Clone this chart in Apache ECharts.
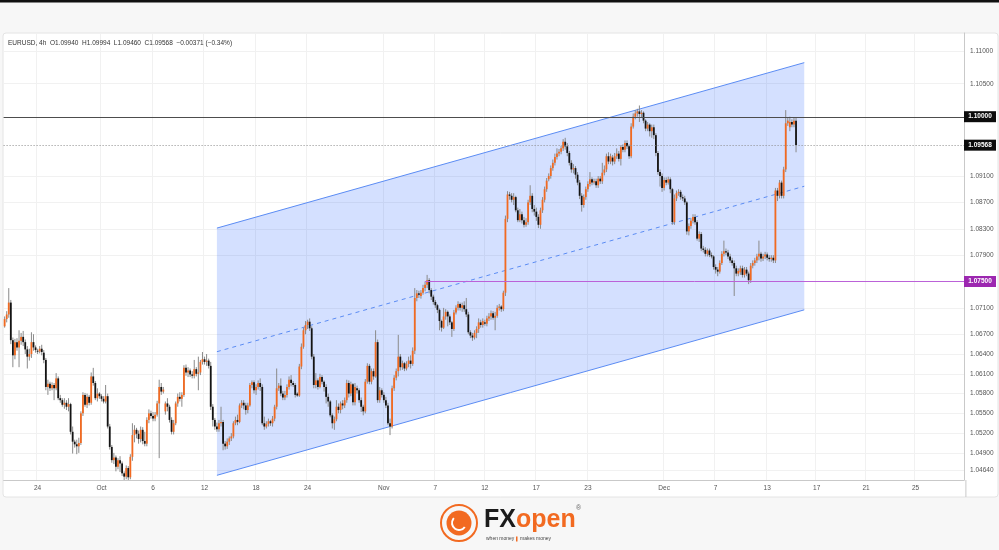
<!DOCTYPE html>
<html><head><meta charset="utf-8">
<script src="https://cdn.jsdelivr.net/npm/echarts@6/dist/echarts.min.js"></script>
<style>html,body{margin:0;padding:0;background:#f7f7f7}#c{width:999px;height:550px}</style>
</head><body><div id="c"></div>
<script>
// ---- DATA: EURUSD 4h candles, rows are [open, high, low, close] ----
const sepBars = [
[1.0682,1.0697,1.0680,1.0693],[1.0693,1.0705,1.0688,1.0700],[1.0700,1.0740,1.0695,1.0718],[1.0718,1.0722,1.0655,1.0661],
[1.0661,1.0665,1.0620,1.0638],[1.0638,1.0663,1.0632,1.0658],[1.0658,1.0664,1.0645,1.0650],[1.0650,1.0676,1.0620,1.0660],
[1.0660,1.0672,1.0654,1.0666],[1.0666,1.0675,1.0652,1.0658],[1.0658,1.0662,1.0640,1.0647],[1.0647,1.0652,1.0618,1.0636],
[1.0636,1.0648,1.0630,1.0640],[1.0640,1.0673,1.0634,1.0658],[1.0658,1.0670,1.0645,1.0650],[1.0650,1.0653,1.0642,1.0646],
[1.0645,1.0648,1.0640,1.0644],[1.0644,1.0652,1.0641,1.0648],[1.0648,1.0654,1.0638,1.0643],[1.0642,1.0646,1.0626,1.0631],
[1.0631,1.0634,1.0585,1.0590],[1.0590,1.0601,1.0578,1.0595],[1.0595,1.0598,1.0584,1.0588],[1.0588,1.0597,1.0585,1.0593],
[1.0593,1.0596,1.0570,1.0588],[1.0588,1.0611,1.0585,1.0603],[1.0603,1.0606,1.0570,1.0573],[1.0573,1.0578,1.0566,1.0570],
[1.0570,1.0573,1.0560,1.0563],[1.0563,1.0573,1.0557,1.0566],[1.0566,1.0570,1.0555,1.0560],[1.0560,1.0573,1.0553,1.0564],
[1.0564,1.0566,1.0518,1.0522],[1.0522,1.0530,1.0489,1.0507],[1.0507,1.0510,1.0498,1.0503],[1.0503,1.0510,1.0488,1.0500],
[1.0500,1.0513,1.0490,1.0505],[1.0505,1.0553,1.0502,1.0550],[1.0550,1.0582,1.0546,1.0578],[1.0578,1.0581,1.0560,1.0563],
[1.0563,1.0580,1.0558,1.0575],[1.0575,1.0578,1.0562,1.0566],[1.0566,1.0612,1.0563,1.0606],[1.0606,1.0619,1.0592,1.0596],
[1.0596,1.0599,1.0570,1.0573],[1.0573,1.0588,1.0568,1.0580],[1.0580,1.0582,1.0572,1.0576]
];
const octBars = [
[1.0576,1.0579,1.0568,1.0572],[1.0572,1.0576,1.0565,1.0568],[1.0568,1.0593,1.0565,1.0576],[1.0576,1.0580,1.0527,1.0530],
[1.0530,1.0534,1.0495,1.0499],[1.0499,1.0502,1.0475,1.0479],[1.0479,1.0490,1.0473,1.0483],[1.0483,1.0486,1.0462,1.0469],
[1.0469,1.0482,1.0465,1.0479],[1.0479,1.0485,1.0461,1.0474],[1.0474,1.0477,1.0455,1.0459],[1.0459,1.0462,1.0448,1.0454],
[1.0454,1.0471,1.0450,1.0467],[1.0467,1.0470,1.0448,1.0453],[1.0453,1.0488,1.0450,1.0484],[1.0484,1.0535,1.0478,1.0517],
[1.0517,1.0532,1.0506,1.0525],[1.0525,1.0528,1.0512,1.0519],[1.0519,1.0524,1.0504,1.0511],[1.0511,1.0530,1.0506,1.0525],
[1.0525,1.0529,1.0503,1.0508],[1.0508,1.0522,1.0500,1.0504],[1.0504,1.0544,1.0500,1.0540],[1.0540,1.0556,1.0535,1.0550],
[1.0550,1.0554,1.0542,1.0546],[1.0546,1.0552,1.0538,1.0542],[1.0542,1.0552,1.0538,1.0548],[1.0548,1.0569,1.0545,1.0565],
[1.0565,1.0601,1.0482,1.0590],[1.0590,1.0596,1.0578,1.0583],[1.0583,1.0590,1.0580,1.0586],[1.0553,1.0568,1.0548,1.0565],
[1.0565,1.0573,1.0553,1.0560],[1.0560,1.0563,1.0536,1.0540],[1.0540,1.0544,1.0518,1.0522],[1.0522,1.0540,1.0518,1.0535],
[1.0535,1.0568,1.0532,1.0565],[1.0565,1.0580,1.0560,1.0575],[1.0575,1.0582,1.0568,1.0572],[1.0572,1.0582,1.0560,1.0578],
[1.0578,1.0623,1.0575,1.0619],[1.0619,1.0624,1.0607,1.0612],[1.0612,1.0620,1.0605,1.0615],[1.0615,1.0618,1.0605,1.0609],
[1.0609,1.0614,1.0603,1.0607],[1.0607,1.0631,1.0603,1.0617],[1.0617,1.0620,1.0606,1.0610],[1.0610,1.0636,1.0585,1.0612],
[1.0612,1.0631,1.0608,1.0628],[1.0628,1.0643,1.0624,1.0632],[1.0632,1.0636,1.0624,1.0628],[1.0628,1.0640,1.0622,1.0630],
[1.0630,1.0633,1.0618,1.0622],[1.0622,1.0628,1.0555,1.0560],[1.0560,1.0564,1.0530,1.0540],[1.0540,1.0543,1.0525,1.0530],
[1.0530,1.0536,1.0522,1.0526],[1.0526,1.0540,1.0522,1.0535],[1.0535,1.0560,1.0530,1.0537],[1.0537,1.0540,1.0494,1.0504],
[1.0504,1.0508,1.0495,1.0500],[1.0500,1.0512,1.0496,1.0507],[1.0507,1.0515,1.0502,1.0512],[1.0512,1.0520,1.0508,1.0515],
[1.0515,1.0538,1.0512,1.0535],[1.0535,1.0545,1.0532,1.0540],[1.0540,1.0548,1.0532,1.0537],[1.0537,1.0565,1.0535,1.0562],
[1.0562,1.0570,1.0558,1.0566],[1.0566,1.0570,1.0556,1.0562],[1.0562,1.0566,1.0548,1.0555],[1.0555,1.0566,1.0550,1.0562],
[1.0562,1.0596,1.0560,1.0593],[1.0593,1.0600,1.0588,1.0597],[1.0597,1.0600,1.0580,1.0585],[1.0585,1.0594,1.0578,1.0590],
[1.0590,1.0600,1.0586,1.0596],[1.0596,1.0603,1.0584,1.0590],[1.0590,1.0594,1.0532,1.0535],[1.0535,1.0545,1.0525,1.0530],
[1.0530,1.0538,1.0527,1.0534],[1.0534,1.0542,1.0530,1.0538],[1.0538,1.0540,1.0531,1.0535],[1.0535,1.0546,1.0530,1.0542],
[1.0542,1.0563,1.0538,1.0560],[1.0560,1.0618,1.0556,1.0588],[1.0588,1.0596,1.0584,1.0592],[1.0592,1.0603,1.0576,1.0580],
[1.0580,1.0584,1.0570,1.0574],[1.0574,1.0584,1.0570,1.0578],[1.0578,1.0594,1.0574,1.0590],[1.0590,1.0606,1.0586,1.0601],
[1.0601,1.0608,1.0591,1.0596],[1.0596,1.0599,1.0590,1.0593],[1.0593,1.0596,1.0574,1.0578],[1.0580,1.0582,1.0575,1.0577],
[1.0577,1.0625,1.0575,1.0621],[1.0621,1.0656,1.0617,1.0651],[1.0651,1.0680,1.0648,1.0676],[1.0676,1.0690,1.0670,1.0684],
[1.0684,1.0692,1.0678,1.0689],[1.0689,1.0694,1.0675,1.0679],[1.0679,1.0682,1.0632,1.0636],[1.0636,1.0640,1.0588,1.0593],
[1.0593,1.0611,1.0588,1.0600],[1.0600,1.0603,1.0586,1.0590],[1.0590,1.0610,1.0588,1.0605],[1.0605,1.0608,1.0594,1.0598],
[1.0598,1.0600,1.0583,1.0590],[1.0590,1.0594,1.0565,1.0575],[1.0575,1.0580,1.0560,1.0568],[1.0568,1.0570,1.0544,1.0547],
[1.0547,1.0550,1.0527,1.0535],[1.0535,1.0545,1.0525,1.0541],[1.0541,1.0570,1.0538,1.0560],[1.0560,1.0565,1.0550,1.0555],
[1.0555,1.0568,1.0550,1.0565],[1.0565,1.0570,1.0556,1.0562],[1.0562,1.0574,1.0558,1.0570],[1.0570,1.0601,1.0566,1.0596],
[1.0596,1.0600,1.0574,1.0580],[1.0580,1.0598,1.0576,1.0594],[1.0594,1.0596,1.0562,1.0567],[1.0567,1.0596,1.0562,1.0590],
[1.0588,1.0592,1.0580,1.0585],[1.0585,1.0588,1.0566,1.0570],[1.0570,1.0574,1.0552,1.0560],[1.0560,1.0563,1.0547,1.0553],
[1.0553,1.0602,1.0550,1.0598],[1.0598,1.0626,1.0595,1.0622],[1.0622,1.0625,1.0594,1.0598],[1.0598,1.0618,1.0594,1.0614],
[1.0614,1.0618,1.0601,1.0606],[1.0606,1.0676,1.0604,1.0658],[1.0658,1.0662,1.0566,1.0570],[1.0570,1.0590,1.0566,1.0585],
[1.0585,1.0588,1.0574,1.0578]
];
const novBars = [
[1.0578,1.0582,1.0566,1.0570],[1.0570,1.0575,1.0558,1.0562],[1.0562,1.0566,1.0532,1.0535],[1.0535,1.0542,1.0517,1.0530],
[1.0530,1.0592,1.0527,1.0588],[1.0588,1.0608,1.0584,1.0604],[1.0604,1.0618,1.0600,1.0614],[1.0614,1.0669,1.0606,1.0636],
[1.0636,1.0640,1.0615,1.0620],[1.0620,1.0630,1.0616,1.0626],[1.0626,1.0628,1.0614,1.0618],[1.0618,1.0629,1.0615,1.0625],
[1.0625,1.0636,1.0620,1.0630],[1.0630,1.0638,1.0618,1.0625],[1.0625,1.0650,1.0622,1.0645],[1.0645,1.0740,1.0640,1.0725],
[1.0725,1.0737,1.0720,1.0732],[1.0732,1.0736,1.0725,1.0730],[1.0728,1.0737,1.0724,1.0733],[1.0733,1.0745,1.0730,1.0740],
[1.0740,1.0750,1.0735,1.0745],[1.0745,1.0760,1.0740,1.0752],[1.0752,1.0755,1.0732,1.0737],[1.0737,1.0740,1.0722,1.0727],
[1.0727,1.0730,1.0715,1.0719],[1.0719,1.0722,1.0710,1.0714],[1.0714,1.0716,1.0702,1.0707],[1.0707,1.0709,1.0676,1.0690],
[1.0690,1.0692,1.0674,1.0680],[1.0680,1.0710,1.0678,1.0697],[1.0697,1.0708,1.0692,1.0704],[1.0704,1.0706,1.0682,1.0697],
[1.0697,1.0700,1.0684,1.0688],[1.0688,1.0690,1.0666,1.0678],[1.0678,1.0707,1.0675,1.0703],[1.0703,1.0714,1.0700,1.0710],
[1.0710,1.0720,1.0706,1.0716],[1.0716,1.0718,1.0706,1.0710],[1.0710,1.0718,1.0704,1.0714],[1.0714,1.0720,1.0704,1.0708],
[1.0708,1.0725,1.0696,1.0700],[1.0700,1.0704,1.0670,1.0673],[1.0673,1.0676,1.0664,1.0668],[1.0668,1.0672,1.0660,1.0665],
[1.0665,1.0676,1.0662,1.0672],[1.0672,1.0682,1.0664,1.0678],[1.0678,1.0694,1.0672,1.0688],[1.0688,1.0692,1.0680,1.0684],
[1.0684,1.0694,1.0680,1.0690],[1.0688,1.0692,1.0683,1.0686],[1.0686,1.0698,1.0682,1.0694],[1.0694,1.0702,1.0690,1.0697],
[1.0697,1.0706,1.0692,1.0702],[1.0702,1.0705,1.0692,1.0695],[1.0695,1.0704,1.0676,1.0698],[1.0698,1.0714,1.0695,1.0710],
[1.0710,1.0716,1.0706,1.0712],[1.0712,1.0714,1.0704,1.0708],[1.0708,1.0736,1.0705,1.0733],[1.0733,1.0850,1.0728,1.0845],
[1.0845,1.0887,1.0840,1.0882],[1.0882,1.0886,1.0874,1.0880],[1.0880,1.0884,1.0870,1.0874],[1.0874,1.0884,1.0866,1.0878],
[1.0878,1.0880,1.0855,1.0858],[1.0858,1.0862,1.0840,1.0843],[1.0843,1.0860,1.0840,1.0852],[1.0852,1.0856,1.0838,1.0843],
[1.0843,1.0848,1.0832,1.0836],[1.0836,1.0846,1.0833,1.0840],[1.0840,1.0874,1.0836,1.0870],[1.0870,1.0896,1.0866,1.0880],
[1.0880,1.0884,1.0855,1.0860],[1.0860,1.0866,1.0850,1.0856],[1.0856,1.0862,1.0842,1.0848],[1.0848,1.0852,1.0831,1.0836],
[1.0836,1.0862,1.0830,1.0858],[1.0858,1.0878,1.0854,1.0874],[1.0874,1.0894,1.0870,1.0890],[1.0890,1.0907,1.0886,1.0903],
[1.0905,1.0914,1.0902,1.0910],[1.0910,1.0926,1.0906,1.0922],[1.0922,1.0935,1.0918,1.0930],[1.0930,1.0944,1.0926,1.0939],
[1.0939,1.0952,1.0935,1.0944],[1.0944,1.0951,1.0940,1.0947],[1.0947,1.0956,1.0943,1.0952],[1.0952,1.0966,1.0948,1.0962],
[1.0962,1.0968,1.0950,1.0955],[1.0955,1.0960,1.0940,1.0945],[1.0945,1.0948,1.0926,1.0930],[1.0930,1.0934,1.0915,1.0920],
[1.0920,1.0928,1.0914,1.0922],[1.0922,1.0925,1.0906,1.0912],[1.0912,1.0916,1.0896,1.0900],[1.0900,1.0904,1.0875,1.0880],
[1.0880,1.0884,1.0856,1.0866],[1.0866,1.0882,1.0862,1.0878],[1.0878,1.0894,1.0874,1.0890],[1.0890,1.0902,1.0886,1.0898],
[1.0898,1.0916,1.0894,1.0905],[1.0905,1.0908,1.0896,1.0900],[1.0900,1.0906,1.0897,1.0902],[1.0902,1.0906,1.0892,1.0896],
[1.0896,1.0910,1.0892,1.0906],[1.0906,1.0910,1.0898,1.0902],[1.0902,1.0930,1.0898,1.0915],[1.0915,1.0926,1.0911,1.0920],
[1.0920,1.0944,1.0916,1.0940],[1.0940,1.0946,1.0928,1.0932],[1.0932,1.0944,1.0928,1.0940],[1.0938,1.0942,1.0926,1.0932],
[1.0932,1.0945,1.0928,1.0940],[1.0940,1.0952,1.0936,1.0944],[1.0944,1.0948,1.0932,1.0936],[1.0936,1.0957,1.0926,1.0954],
[1.0954,1.0958,1.0946,1.0950],[1.0950,1.0964,1.0946,1.0960],[1.0960,1.0964,1.0951,1.0955],[1.0955,1.0958,1.0936,1.0940],
[1.0940,1.0990,1.0937,1.0985],[1.0985,1.1005,1.0982,1.1000],[1.1000,1.1010,1.0996,1.1005],[1.1005,1.1012,1.1000,1.1008],
[1.1008,1.1017,1.0992,1.1004],[1.1004,1.1010,1.0998,1.1006],[1.1006,1.1008,1.0990,1.0994],[1.0994,1.0996,1.0978,1.0982],
[1.0982,1.0992,1.0978,1.0988],[1.0988,1.0990,1.0970,1.0978],[1.0978,1.0988,1.0968,1.0984],[1.0984,1.0988,1.0966,1.0972],
[1.0972,1.0975,1.0940,1.0945],[1.0945,1.0948,1.0912,1.0916],[1.0916,1.0920,1.0894,1.0910],[1.0910,1.0914,1.0886,1.0892]
];
const decBars = [
[1.0892,1.0908,1.0888,1.0904],[1.0904,1.0908,1.0896,1.0900],[1.0900,1.0909,1.0897,1.0905],[1.0905,1.0908,1.0884,1.0890],
[1.0890,1.0892,1.0836,1.0840],[1.0840,1.0882,1.0836,1.0876],[1.0876,1.0888,1.0872,1.0884],[1.0884,1.0890,1.0880,1.0886],
[1.0886,1.0889,1.0874,1.0878],[1.0878,1.0882,1.0872,1.0876],[1.0876,1.0880,1.0866,1.0870],[1.0870,1.0872,1.0821,1.0826],
[1.0826,1.0838,1.0820,1.0834],[1.0834,1.0846,1.0830,1.0842],[1.0842,1.0852,1.0838,1.0848],[1.0848,1.0852,1.0836,1.0840],
[1.0840,1.0843,1.0812,1.0815],[1.0815,1.0826,1.0810,1.0822],[1.0822,1.0825,1.0796,1.0800],[1.0800,1.0804,1.0794,1.0798],
[1.0798,1.0802,1.0788,1.0792],[1.0792,1.0800,1.0788,1.0797],[1.0797,1.0800,1.0787,1.0790],[1.0790,1.0794,1.0785,1.0788],
[1.0788,1.0790,1.0768,1.0772],[1.0772,1.0776,1.0762,1.0768],[1.0768,1.0772,1.0758,1.0765],[1.0765,1.0782,1.0762,1.0778],
[1.0778,1.0796,1.0775,1.0792],[1.0792,1.0812,1.0788,1.0796],[1.0796,1.0800,1.0790,1.0794],[1.0794,1.0798,1.0784,1.0788],
[1.0788,1.0792,1.0778,1.0782],[1.0782,1.0786,1.0774,1.0778],[1.0778,1.0782,1.0728,1.0770],[1.0770,1.0774,1.0758,1.0762],
[1.0762,1.0770,1.0758,1.0766],[1.0764,1.0774,1.0760,1.0770],[1.0770,1.0774,1.0756,1.0760],[1.0760,1.0772,1.0756,1.0768],
[1.0768,1.0772,1.0758,1.0762],[1.0762,1.0765,1.0746,1.0752],[1.0752,1.0778,1.0748,1.0774],[1.0774,1.0782,1.0770,1.0778],
[1.0778,1.0786,1.0774,1.0782],[1.0782,1.0792,1.0778,1.0788],[1.0788,1.0812,1.0782,1.0792],[1.0792,1.0795,1.0780,1.0785],
[1.0785,1.0792,1.0781,1.0788],[1.0788,1.0795,1.0784,1.0791],[1.0791,1.0794,1.0782,1.0786],[1.0786,1.0790,1.0780,1.0784],
[1.0784,1.0790,1.0780,1.0786],[1.0786,1.0790,1.0778,1.0782],[1.0782,1.0892,1.0778,1.0888],[1.0888,1.0892,1.0872,1.0880],
[1.0880,1.0904,1.0876,1.0900],[1.0900,1.0903,1.0876,1.0880],[1.0880,1.0924,1.0876,1.0920],[1.0920,1.1010,1.0916,1.0990],
[1.0990,1.0999,1.0986,1.0994],[1.0984,1.1000,1.0978,1.0992],[1.0992,1.0996,1.0984,1.0988],[1.0988,1.0998,1.0984,1.0994],
[1.0994,1.0999,1.0946,1.0957]
];
// time-axis slots (4h bars incl. future space) and date tick labels
const slotCount = 466;
const xTickIndex = [16,47,72,97,122,147,184,209,233,258,283,320,345,370,394,418,442];
const xTickText  = ['24','Oct','6','12','18','24','Nov','7','12','17','23','Dec','7','13','17','21','25'];
// price scale tick labels
const yTickValues = [1.11,1.105,1.091,1.087,1.083,1.079,1.071,1.067,1.064,1.061,1.058,1.055,1.052,1.049,1.0464];
// horizontal levels: [price, first bar index]
const resistanceLevel = [1.10000, 0];
const lastPriceLevel = [1.09568, 0];
const supportLevel = [1.07500, 204];
// ascending channel: [barIndex, price]
const channelUpper = [[103, 1.0831], [388, 1.1082]];
const channelLower = [[103, 1.0456], [388, 1.0707]];
const header = 'EURUSD, 4h  O1.09940  H1.09994  L1.09460  C1.09568  \u22120.00371 (\u22120.34%)';

// ---- build ----
const rows = [].concat(sepBars, octBars, novBars, decBars);
const candleData = rows.map((r, i) => [i, r[0], r[1], r[2], r[3]]);
const categories = Array.from({length: slotCount}, (_, i) => String(i));
const tickMap = {};
xTickIndex.forEach((v, k) => { tickMap[v] = xTickText[k]; });
const FONT = 'Liberation Sans, Arial, sans-serif';
const UP = '#f26a21', DOWN = '#141414', WICK = '#8a8a8a';
const CH = '#5b8cf4';
const levelStyles = [
  {stroke: '#4d4d4d', lineWidth: 1},
  {stroke: '#8c8c8c', lineWidth: 1, lineDash: [1, 2]},
  {stroke: '#bb62d8', lineWidth: 1}
];
const levelData = [resistanceLevel, lastPriceLevel, supportLevel].map((l) => [l[1], l[0]]);

const chart = echarts.init(document.getElementById('c'), null, {renderer: 'canvas'});
const option = {
  backgroundColor: '#f7f7f7',
  animation: false,
  grid: {left: 3.6, top: 33, width: 962.3, height: 447, containLabel: false},
  xAxis: {
    type: 'category', data: categories, boundaryGap: true,
    axisLine: {show: true, lineStyle: {color: '#c9c9c9', width: 1}},
    axisTick: {show: false},
    axisLabel: {
      interval: (idx) => tickMap[idx] !== undefined,
      formatter: (v, idx) => tickMap[idx] || '',
      color: '#555', fontSize: 6.5, fontFamily: FONT, margin: 5
    },
    splitLine: {show: true, interval: (idx) => tickMap[idx] !== undefined, lineStyle: {color: '#f1f1f1', width: 1}}
  },
  yAxis: {
    type: 'value', position: 'right', scale: true,
    min: 1.044887, max: 1.112697,
    axisLine: {show: true, lineStyle: {color: '#c9c9c9', width: 1}},
    axisTick: {show: false, customValues: yTickValues},
    splitLine: {show: true, lineStyle: {color: '#f1f1f1', width: 1}},
    axisLabel: {
      customValues: yTickValues.concat([resistanceLevel[0], lastPriceLevel[0], supportLevel[0]]),
      margin: 0,
      formatter: (v) => {
        const s = v.toFixed(5);
        if (Math.abs(v - resistanceLevel[0]) < 1e-7 || Math.abs(v - lastPriceLevel[0]) < 1e-7) return '{blk|' + s + '}';
        if (Math.abs(v - supportLevel[0]) < 1e-7) return '{pur|' + s + '}';
        return '{n|' + s + '}';
      },
      rich: {
        n: {color: '#555', fontSize: 6.5, fontFamily: FONT, padding: [0, 0, 0, 6]},
        blk: {color: '#fff', backgroundColor: '#0c0c0c', fontSize: 6.5, fontFamily: FONT, fontWeight: 'bold', width: 28, align: 'center', padding: [2, 2, 2, 2]},
        pur: {color: '#fff', backgroundColor: '#9c27b0', fontSize: 6.5, fontFamily: FONT, fontWeight: 'bold', width: 28, align: 'center', padding: [2, 2, 2, 2]}
      }
    }
  },
  graphic: [
    {type: 'rect', z: -20, shape: {x: 0, y: 0, width: 999, height: 2.5}, style: {fill: '#111'}},
    {type: 'rect', z: -20, shape: {x: 3, y: 33, width: 995, height: 464, r: 3}, style: {fill: '#fff', stroke: '#e4e4e4', lineWidth: 1}},
    {type: 'line', z: 10, shape: {x1: 965.9, y1: 480, x2: 965.9, y2: 497}, style: {stroke: '#c9c9c9', lineWidth: 1}},
    {type: 'text', z: 20, style: {text: header, x: 8, y: 43, verticalAlign: 'middle', font: '6.5px ' + FONT, fill: '#333'}},
    // FXopen logo
    {type: 'group', z: 20, children: [
      {type: 'circle', shape: {cx: 459, cy: 523, r: 18}, style: {fill: 'none', stroke: '#f26a21', lineWidth: 2}},
      {type: 'circle', shape: {cx: 459, cy: 523, r: 12.5}, style: {fill: '#f26a21'}},
      {type: 'arc', shape: {cx: 459, cy: 523, r: 7, startAngle: 0.6, endAngle: 3.9}, style: {stroke: '#fff', lineWidth: 2, fill: 'none'}},
      {type: 'text', style: {text: '{fx|FX}{op|open}', x: 484, y: 520, verticalAlign: 'middle',
        rich: {fx: {font: 'bold 25px ' + FONT, fill: '#1b1b1b'}, op: {font: 'bold 25px ' + FONT, fill: '#f26a21'}}}},
      {type: 'text', style: {text: '\u00ae', x: 576, y: 508, font: '7px ' + FONT, fill: '#666', verticalAlign: 'middle'}},
      {type: 'text', style: {text: 'when money', x: 486, y: 539, font: '5px ' + FONT, fill: '#444', verticalAlign: 'middle'}},
      {type: 'rect', shape: {x: 516, y: 536.5, width: 1.5, height: 5}, style: {fill: '#f26a21'}},
      {type: 'text', style: {text: 'makes money', x: 520, y: 539, font: '5px ' + FONT, fill: '#444', verticalAlign: 'middle'}}
    ]}
  ],
  series: [
    {
      type: 'custom', name: 'channel', z: 1, silent: true, clip: true,
      data: [[0]],
      renderItem: (params, api) => {
        const u0 = api.coord(channelUpper[0]), u1 = api.coord(channelUpper[1]);
        const l0 = api.coord(channelLower[0]), l1 = api.coord(channelLower[1]);
        const m0 = [(u0[0] + l0[0]) / 2, (u0[1] + l0[1]) / 2], m1 = [(u1[0] + l1[0]) / 2, (u1[1] + l1[1]) / 2];
        return {type: 'group', children: [
          {type: 'polygon', shape: {points: [u0, u1, l1, l0]}, style: {fill: 'rgba(41,98,255,0.2)'}},
          {type: 'line', shape: {x1: u0[0], y1: u0[1], x2: u1[0], y2: u1[1]}, style: {stroke: CH, lineWidth: 1}},
          {type: 'line', shape: {x1: l0[0], y1: l0[1], x2: l1[0], y2: l1[1]}, style: {stroke: CH, lineWidth: 1}},
          {type: 'line', shape: {x1: m0[0], y1: m0[1], x2: m1[0], y2: m1[1]}, style: {stroke: CH, lineWidth: 1, lineDash: [4, 4]}}
        ]};
      }
    },
    {
      type: 'custom', name: 'EURUSD', z: 3, clip: true,
      data: candleData,
      encode: {x: 0, y: [1, 2, 3, 4]},
      renderItem: (params, api) => {
        const i = api.value(0), o = api.value(1), h = api.value(2), l = api.value(3), c = api.value(4);
        const pO = api.coord([i, o]), pC = api.coord([i, c]), pH = api.coord([i, h]), pL = api.coord([i, l]);
        const x = pO[0];
        const top = Math.min(pO[1], pC[1]);
        const bh = Math.max(Math.abs(pO[1] - pC[1]), 1);
        return {type: 'group', children: [
          {type: 'line', shape: {x1: x, y1: pH[1], x2: x, y2: pL[1]}, style: {stroke: WICK, lineWidth: 1}},
          {type: 'rect', shape: {x: x - 0.9, y: top, width: 1.8, height: bh}, style: {fill: c >= o ? UP : DOWN}}
        ]};
      }
    },
    {
      type: 'custom', name: 'levels', z: 5, silent: true, clip: true,
      data: levelData,
      encode: {x: 0, y: 1},
      renderItem: (params, api) => {
        const k = params.dataIndex;
        const start = api.value(0), price = api.value(1);
        const cs = params.coordSys;
        const p = api.coord([start, price]);
        const x1 = start === 0 ? cs.x : p[0];
        const y = Math.round(p[1]) + 0.5;
        const st = levelStyles[k];
        return {type: 'line', shape: {x1: x1, y1: y, x2: cs.x + cs.width, y2: y},
          style: {stroke: st.stroke, lineWidth: st.lineWidth, lineDash: st.lineDash || null}};
      }
    }
  ]
};
chart.setOption(option);
</script>
</body></html>
